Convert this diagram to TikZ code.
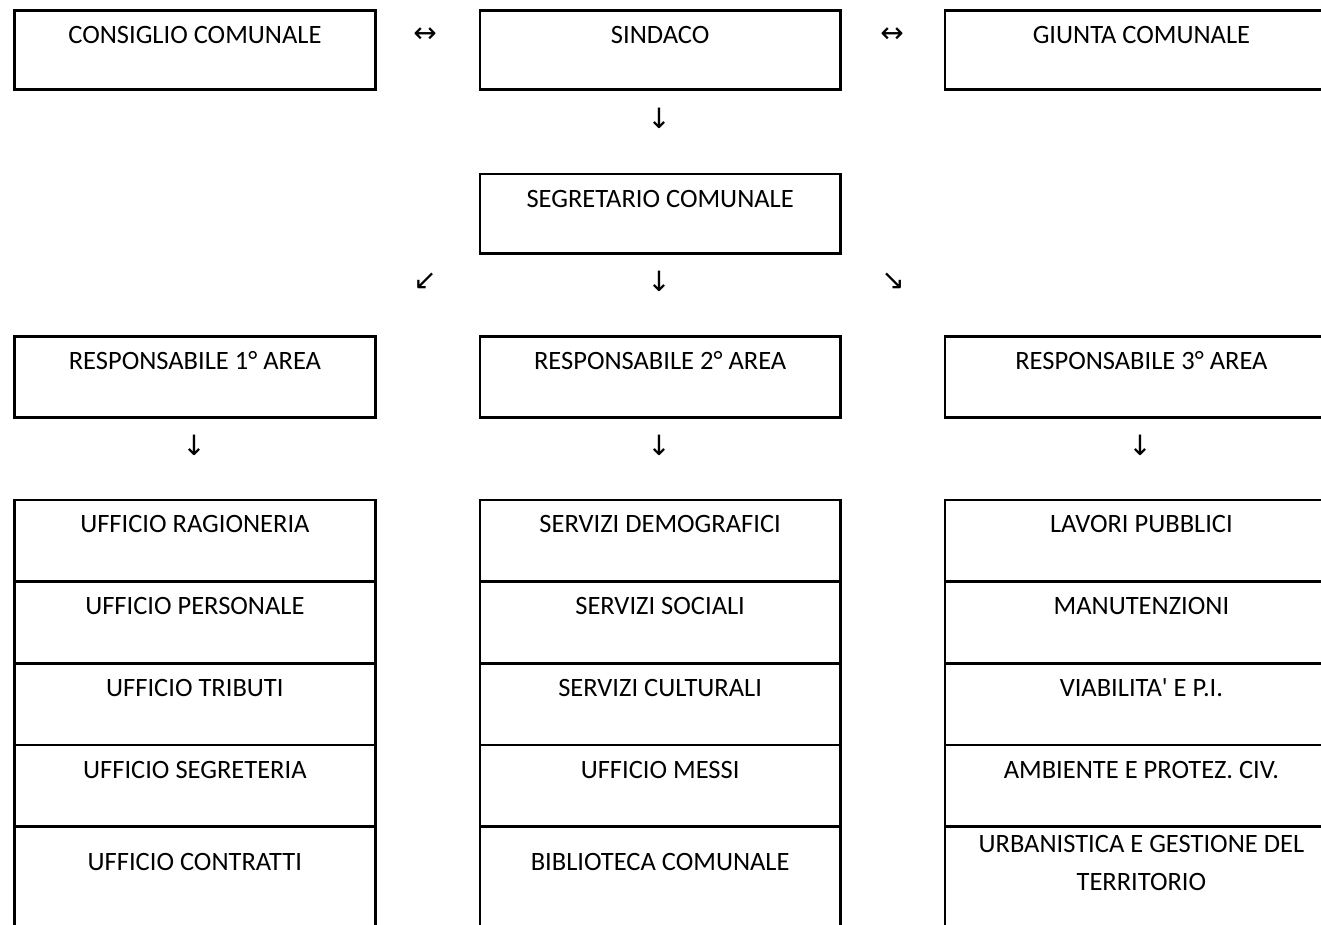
\documentclass[tikz,border=0pt]{standalone}
\usepackage{fontspec}
\setmainfont{Carlito}[Ligatures=TeXOff]
\newfontfamily\arrowfont{DejaVu Sans}
\begin{document}
\begin{tikzpicture}[x=1pt,y=-1pt,
  cell/.style={draw, line width=2.8pt, inner sep=0pt, anchor=north west,
    font=\fontsize{26.5}{29}\selectfont, text height=33pt},
  colL/.style={minimum width=361pt},
  colM/.style={minimum width=360.5pt},
  colR/.style={minimum width=393pt},
  rowA/.style={minimum height=78.5pt, text depth=45.5pt},
  rowB/.style={minimum height=79.6pt, text depth=46.6pt},
  rowC/.style={minimum height=81pt, text depth=48pt},
  item/.style={minimum height=81.7pt, text depth=48.7pt},
  last/.style={minimum height=140pt, text height=44pt, text depth=96pt},
  sym/.style={inner sep=0pt, font=\arrowfont\fontsize{28}{30}\selectfont}
]
\useasboundingbox (0,0) rectangle (1321,925);
\clip (0,0) rectangle (1321,925);
% top row
\node[cell,colL,rowA] (cons) at (13,9.5) {CONSIGLIO COMUNALE};
\node[cell,colM,rowA] (sind) at (478.5,9.5) {SINDACO};
\node[cell,colR,rowA] (giun) at (943.5,9.5) {GIUNTA COMUNALE};
\node[sym] (a1) at (425,35) {↔};
\node[sym] (a2) at (892,35) {↔};
\node[sym] (a3) at (659,118) {↓};
% second row
\node[cell,colM,rowB] (segr) at (478.5,172.7) {SEGRETARIO COMUNALE};
\node[sym] (b1) at (425,281) {↙};
\node[sym] (b2) at (659,281) {↓};
\node[sym] (b3) at (893,281) {↘};
% third row
\node[cell,colL,rowC] (r1) at (13,335) {RESPONSABILE 1° AREA};
\node[cell,colM,rowC] (r2) at (478.5,335) {RESPONSABILE 2° AREA};
\node[cell,colR,rowC] (r3) at (943.5,335) {RESPONSABILE 3° AREA};
\node[sym] (c1) at (194,445) {↓};
\node[sym] (c2) at (659,445) {↓};
\node[sym] (c3) at (1140,445) {↓};
% lists
\node[cell,colL,item] (l1) at (13,498.5) {UFFICIO RAGIONERIA};
\node[cell,colL,item] (l2) at (13,580.2) {UFFICIO PERSONALE};
\node[cell,colL,item] (l3) at (13,661.9) {UFFICIO TRIBUTI};
\node[cell,colL,item] (l4) at (13,743.6) {UFFICIO SEGRETERIA};
\node[cell,colL,last] (l5) at (13,825.3) {UFFICIO CONTRATTI};
\node[cell,colM,item] (m1) at (478.5,498.5) {SERVIZI DEMOGRAFICI};
\node[cell,colM,item] (m2) at (478.5,580.2) {SERVIZI SOCIALI};
\node[cell,colM,item] (m3) at (478.5,661.9) {SERVIZI CULTURALI};
\node[cell,colM,item] (m4) at (478.5,743.6) {UFFICIO MESSI};
\node[cell,colM,last] (m5) at (478.5,825.3) {BIBLIOTECA COMUNALE};
\node[cell,colR,item] (n1) at (943.5,498.5) {LAVORI PUBBLICI};
\node[cell,colR,item] (n2) at (943.5,580.2) {MANUTENZIONI};
\node[cell,colR,item] (n3) at (943.5,661.9) {VIABILITA' E P.I.};
\node[cell,colR,item] (n4) at (943.5,743.6) {AMBIENTE E PROTEZ. CIV.};
\node[cell,colR,minimum height=140pt, align=center, text height=64pt, text depth=76pt] (n5) at (943.5,825.3) {URBANISTICA E GESTIONE DEL\\[9pt]TERRITORIO};
\end{tikzpicture}
\end{document}
